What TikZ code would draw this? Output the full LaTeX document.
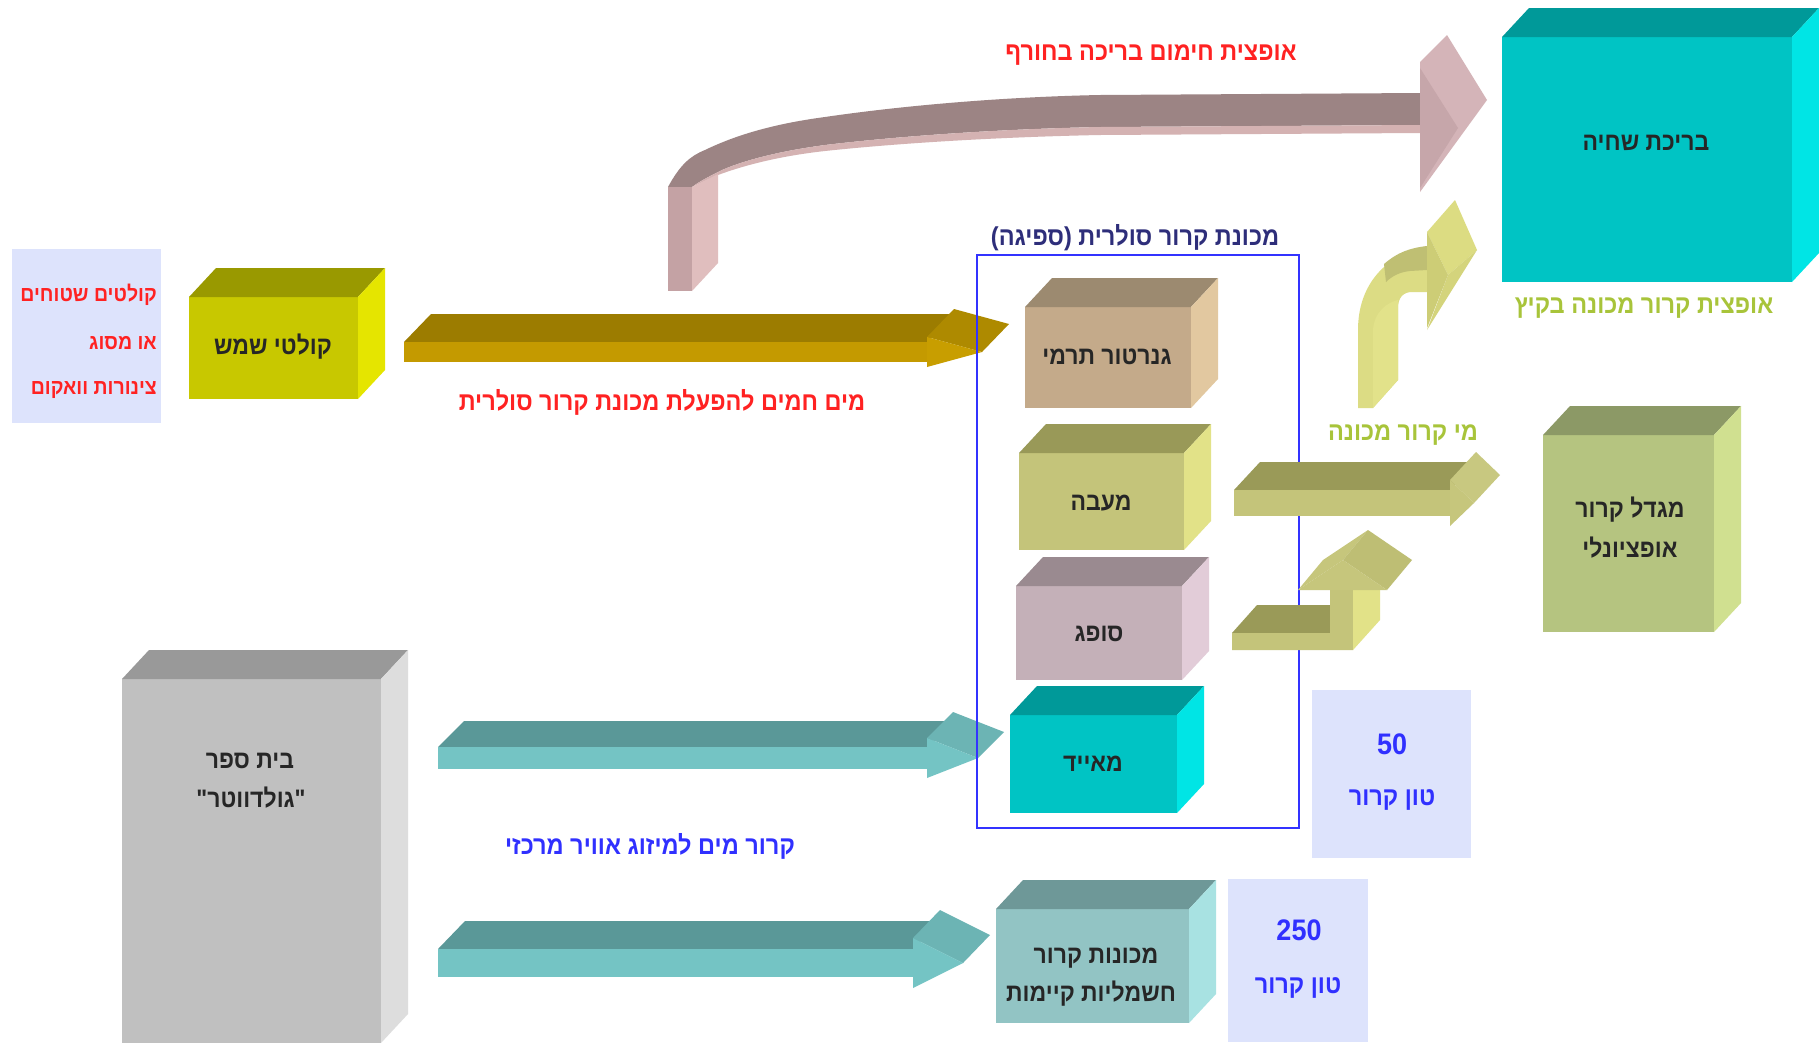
\documentclass[tikz,border=0pt]{standalone}
\usepackage{graphicx}
\usepackage{fontspec}
\newfontfamily\heb[Script=Hebrew]{Liberation Sans}
\TeXXeTstate=1
\newcommand\RL[1]{\scalebox{1}[1.1]{\beginR #1\endR}}
\definecolor{lightbox}{RGB}{221,227,252}
\definecolor{redtxt}{HTML}{FF2222}
\definecolor{bluetxt}{HTML}{3030FF}
\definecolor{navytxt}{HTML}{2E2E7A}
\definecolor{greentxt}{HTML}{A8C43A}
\definecolor{frameblue}{HTML}{3333FF}
% cube colours
\definecolor{yelF}{HTML}{C8C800}\definecolor{yelT}{HTML}{999900}\definecolor{yelS}{HTML}{E5E500}
\definecolor{cyaF}{HTML}{00C4C4}\definecolor{cyaT}{HTML}{009999}\definecolor{cyaS}{HTML}{00E5E5}
\definecolor{genF}{HTML}{C4AA8A}\definecolor{genT}{HTML}{9C8A70}\definecolor{genS}{HTML}{E2C8A0}
\definecolor{conF}{HTML}{C4C47A}\definecolor{conT}{HTML}{999958}\definecolor{conS}{HTML}{E2E288}
\definecolor{absF}{HTML}{C4B0B8}\definecolor{absT}{HTML}{9A8A90}\definecolor{absS}{HTML}{E2CCD8}
\definecolor{towF}{HTML}{B5C480}\definecolor{towT}{HTML}{8C9966}\definecolor{towS}{HTML}{D0E090}
\definecolor{gryF}{HTML}{C0C0C0}\definecolor{gryT}{HTML}{999999}\definecolor{gryS}{HTML}{DDDDDD}
\definecolor{macF}{HTML}{92C4C4}\definecolor{macT}{HTML}{6E9898}\definecolor{macS}{HTML}{A8E2E2}
% arrow colours
\definecolor{golT}{HTML}{9C7C00}\definecolor{golF}{HTML}{C49A00}\definecolor{golHT}{HTML}{AE8A00}\definecolor{golHF}{HTML}{C89E00}
\definecolor{teaT}{HTML}{5A9898}\definecolor{teaF}{HTML}{74C4C4}\definecolor{teaHT}{HTML}{6CB4B4}\definecolor{teaHF}{HTML}{74C4C4}
\definecolor{oliT}{HTML}{9A9A58}\definecolor{oliF}{HTML}{C4C47A}\definecolor{oliHT}{HTML}{C8C880}\definecolor{oliHF}{HTML}{C6C67C}
\definecolor{oliS}{HTML}{E2E288}\definecolor{oliHR}{HTML}{BEBE74}
\definecolor{pnkL}{HTML}{C4A2A4}\definecolor{pnkR}{HTML}{E0BEBE}\definecolor{pnkB}{HTML}{9C8484}\definecolor{pnkS}{HTML}{D4B2B2}
\definecolor{pnkHF}{HTML}{C6A6AA}\definecolor{pnkHO}{HTML}{D4B4B8}
\definecolor{cyl}{HTML}{DCDC84}\definecolor{cylL}{HTML}{E2E28A}\definecolor{cylD}{HTML}{BFBF73}
\definecolor{cylHF}{HTML}{CDCD76}\definecolor{cylHO}{HTML}{DCDC82}\definecolor{cylHL}{HTML}{D4D47C}

% cube: x1 y1 x2 y2 front top side ; depth (27,-29)
\newcommand\boxcube[7]{%
  \fill[#5] (#1,#2) rectangle (#3,#4);
  \fill[#6] (#1,#2) -- (#1+27,#2-29) -- (#3+27,#2-29) -- (#3,#2) -- cycle;
  \fill[#7] (#3,#2) -- (#3+27,#2-29) -- (#3+27,#4-29) -- (#3,#4) -- cycle;
}
% flat 3D arrow: L B T c h H dx dy colour-prefix
\newcommand\flatarrow[9]{%
  \fill[#9T] (#1,#4-#5) -- (#1+#7,#4-#5+#8) -- (#2+#7,#4-#5+#8) -- (#2,#4-#5) -- cycle;
  \fill[#9F] (#1,#4-#5) rectangle (#2,#4+#5);
  \fill[#9HT] (#2,#4-#6) -- (#2+#7,#4-#6+#8) -- (#3+#7,#4+#8) -- (#3,#4) -- cycle;
  \fill[#9HF] (#2,#4-#6) -- (#3,#4) -- (#2,#4+#6) -- cycle;
}

\tikzset{
  lbl/.style={font=\heb\bfseries\fontsize{23}{27}\selectfont, inner sep=0pt, text=black!85},
  clbl/.style={font=\heb\bfseries\fontsize{23.5}{27}\selectfont, inner sep=0pt},
  slbl/.style={font=\heb\bfseries\fontsize{19.5}{23}\selectfont, inner sep=0pt, text=redtxt, anchor=east},
  nlbl/.style={font=\heb\bfseries\fontsize{27}{30}\selectfont, inner sep=0pt, text=bluetxt},
}

\begin{document}
\begin{tikzpicture}[x=1pt,y=-1pt]
\useasboundingbox (0,0) rectangle (1820,1042);
\fill[white] (0,0) rectangle (1820,1042);

% light boxes
\fill[lightbox] (12,249) rectangle (161,423);
\fill[lightbox] (1312,690) rectangle (1471,858);
\fill[lightbox] (1228,879) rectangle (1368,1042);

% pink curved arrow (winter pool heating)
\fill[pnkB] (668,187) .. controls (680,165) and (690,156) .. (705,150)
  .. controls (740,133) and (780,123) .. (825,117)
  .. controls (900,106) and (1000,97) .. (1100,95) -- (1421,93) -- (1421,125)
  -- (1100,127) .. controls (1000,129) and (900,136) .. (825,145)
  .. controls (780,151) and (745,160) .. (722,170)
  .. controls (710,176) and (700,181) .. (692,187) -- cycle;
\fill[pnkS] (692,187) .. controls (700,181) and (710,176) .. (722,170)
  .. controls (745,160) and (780,151) .. (825,145)
  .. controls (900,136) and (1000,129) .. (1100,127) -- (1421,125) -- (1421,133)
  -- (1100,135) .. controls (1000,137) and (900,143) .. (825,151)
  .. controls (780,156) and (745,165) .. (718,175) -- cycle;
\fill[pnkL] (668,187) rectangle (692,291);
\fill[pnkR] (692,291) -- (718,263) -- (718,174) -- (692,187) -- cycle;
\fill[pnkHO] (1420,62) -- (1447,35) -- (1487,100) -- (1420,192) -- cycle;
\fill[pnkHF] (1420,68) -- (1458,128) -- (1420,188) -- cycle;

% gold arrow (hot water)
\flatarrow{404}{927}{982}{352}{10}{15}{27}{-28}{gol}
% teal arrows
\flatarrow{438}{927}{978}{758}{11}{20}{26}{-26}{tea}
\flatarrow{438}{913}{963}{963}{14}{25}{27}{-28}{tea}

% absorption machine frame
\draw[frameblue, line width=1.6pt] (977,255) rectangle (1299,828);

% olive arrow to cooling tower
\flatarrow{1234}{1450}{1474}{503}{13}{23}{26}{-28}{oli}

% Z-shaped olive arrow from absorber
\fill[oliT] (1232,633) -- (1257,605) -- (1330,605) -- (1330,633) -- cycle;
\fill[oliF] (1232,633) -- (1330,633) -- (1330,590) -- (1353,590) -- (1353,650) -- (1232,650) -- cycle;
\fill[oliS] (1353,650) -- (1380,620) -- (1380,590) -- (1353,590) -- cycle;
\fill[oliHF] (1298,590) -- (1323,560) -- (1368,530) -- (1343,560) -- cycle;
\fill[oliHR] (1343,560) -- (1368,530) -- (1412,560) -- (1387,590) -- cycle;
\fill[oliHF] (1298,590) -- (1343,560) -- (1387,590) -- cycle;

% curved light-yellow arrow (summer option)
\fill[cyl] (1358,408) -- (1358,330) .. controls (1358,285) and (1385,255) .. (1427,246)
  -- (1427,292) -- (1412,292) .. controls (1403,292) and (1398,298) .. (1398,308)
  -- (1398,380) -- (1373,408) -- cycle;
\fill[cylL] (1373,408) -- (1398,380) -- (1398,300) .. controls (1388,302) and (1373,312) .. (1373,332) -- cycle;
\fill[cylD] (1384,264) .. controls (1398,252) and (1410,248) .. (1427,246) -- (1427,270)
  -- (1410,271) .. controls (1400,272) and (1392,276) .. (1386,282) -- cycle;
\fill[cylHO] (1427,232) -- (1455,200) -- (1477,250) -- (1448,275) -- cycle;
\fill[cylHL] (1448,275) -- (1477,250) -- (1427,330) -- cycle;
\fill[cylHF] (1427,232) -- (1448,275) -- (1427,328) -- cycle;

% cubes
\boxcube{189}{297}{358}{399}{yelF}{yelT}{yelS}
\boxcube{1502}{37}{1792}{282}{cyaF}{cyaT}{cyaS}
\boxcube{1025}{307}{1191}{408}{genF}{genT}{genS}
\boxcube{1019}{453}{1184}{550}{conF}{conT}{conS}
\boxcube{1016}{586}{1182}{680}{absF}{absT}{absS}
\boxcube{1010}{715}{1177}{813}{cyaF}{cyaT}{cyaS}
\boxcube{1543}{435}{1714}{632}{towF}{towT}{towS}
\boxcube{122}{679}{381}{1043}{gryF}{gryT}{gryS}
\boxcube{996}{909}{1189}{1023}{macF}{macT}{macS}

% texts in cubes
\node[lbl] (collector) at (273,347) {\RL{קולטי שמש}};
\node[lbl] (pool) at (1646,143) {\RL{בריכת שחיה}};
\node[lbl] (gen) at (1107,357) {\RL{גנרטור תרמי}};
\node[lbl] (cond) at (1101,503) {\RL{מעבה}};
\node[lbl] (abs) at (1099,634) {\RL{סופג}};
\node[lbl] (evap) at (1093,764) {\RL{מאייד}};
\node[lbl] (tower1) at (1630,510) {\RL{מגדל קרור}};
\node[lbl] (tower2) at (1630,548) {\RL{אופציונלי}};
\node[lbl] (school1) at (250,761) {\RL{בית ספר}};
\node[lbl] (school2) at (251,798) {\RL{"גולדווטר"}};
\node[lbl] (mach1) at (1096,958) {\RL{מכונות קרור}};
\node[lbl] (mach2) at (1091,994) {\RL{חשמליות קיימות}};

% left light box
\node[slbl] (lb1) at (157,295) {\RL{קולטים שטוחים}};
\node[slbl] (lb2) at (157,343) {\RL{או מסוג}};
\node[slbl] (lb3) at (157,390) {\RL{צינורות וואקום}};

% capacity boxes
\node[nlbl] (c50) at (1392,744) {\scalebox{1}[1.1]{50}};
\node[clbl, text=bluetxt] (t50) at (1392,800) {\RL{טון קרור}};
\node[nlbl] (c250) at (1299,930) {\scalebox{1}[1.1]{250}};
\node[clbl, text=bluetxt] (t250) at (1298,988) {\RL{טון קרור}};

% arrow labels
\node[clbl, text=redtxt] (winter) at (1151,55) {\RL{אופצית חימום בריכה בחורף}};
\node[clbl, text=redtxt] (hotw) at (662,402) {\RL{מים חמים להפעלת מכונת קרור סולרית}};
\node[clbl, text=navytxt] (frame) at (1135,238) {\RL{מכונת קרור סולרית (ספיגה)}};
\node[clbl, text=greentxt] (summer) at (1644,308) {\RL{אופצית קרור מכונה בקיץ}};
\node[clbl, text=greentxt] (cw) at (1403,435) {\RL{מי קרור מכונה}};
\node[clbl, text=bluetxt] (ac) at (650,846) {\RL{קרור מים למיזוג אוויר מרכזי}};
\end{tikzpicture}
\end{document}
